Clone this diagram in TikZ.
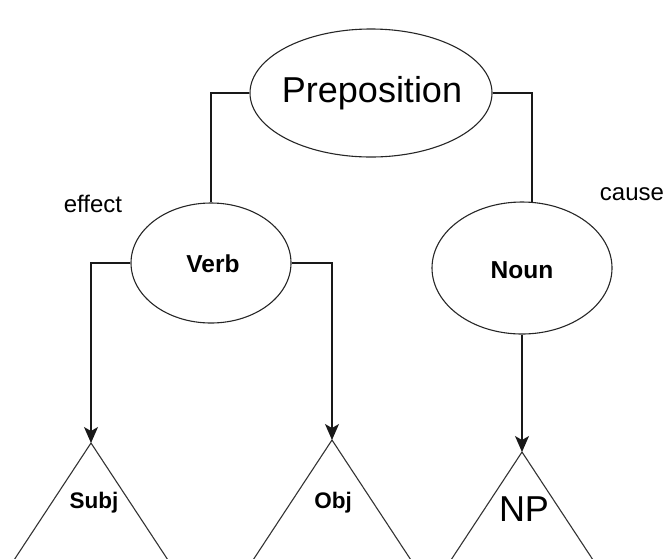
\documentclass[tikz,border=0pt]{standalone}
\usepackage{fontspec}
\setmainfont{Liberation Sans}
\usetikzlibrary{arrows.meta,calc,shapes.geometric}
\tikzset{
  ell/.style={draw=black!85, line width=1.1pt, ellipse, inner sep=0pt},
  conn/.style={draw=black!90, line width=1.2pt},
  arr/.style={conn, -{Stealth[length=16pt,width=14pt,inset=4pt]}},
  tri/.style={draw=black!80, line width=1.1pt},
  big/.style={font=\fontsize{36}{40}\selectfont},
  mid/.style={font=\fontsize{24}{28}\selectfont},
  midb/.style={font=\fontsize{24.5}{28}\selectfont\bfseries},
  smb/.style={font=\fontsize{22.5}{26}\selectfont\bfseries},
}
\begin{document}
\begin{tikzpicture}[x=1pt,y=-1pt]
\useasboundingbox (0,0) rectangle (668,558);
% ellipses
\node[ell, minimum width=242pt, minimum height=128pt] (prep) at (371,93) {};
\node[big] at (372,93) {Preposition};
\node[ell, minimum width=160pt, minimum height=120pt] (verb) at (211,263) {};
\node[midb] at (213,264) {Verb};
\node[ell, minimum width=180pt, minimum height=132pt] (noun) at (522,268) {};
\node[midb] at (522,270) {Noun};
% labels
\node[mid] (effect) at (93,204) {effect};
\node[mid] (cause) at (632,194) {cause};
% triangles
\coordinate (subjtop) at (91,443);
\coordinate (objtop) at (332,440);
\coordinate (nptop) at (522,452);
\begin{scope}
\clip (0,0) rectangle (668,558);
\draw[tri] ($(subjtop)+(-100,152)$) -- (subjtop) -- ($(subjtop)+(100,152)$);
\draw[tri] ($(objtop)+(-100,152)$) -- (objtop) -- ($(objtop)+(100,152)$);
\draw[tri] ($(nptop)+(-100,152)$) -- (nptop) -- ($(nptop)+(100,152)$);
\end{scope}
\node[smb] (subj) at (94,503) {Subj};
\node[smb] (obj) at (333,503) {Obj};
\node[big] (np) at (524,509) {NP};
% connectors
\coordinate (nounin) at ($(noun.north)+(10,0.4)$);
\draw[conn] (prep.west) -| (verb.north);
\draw[conn] (prep.east) -| (nounin);
\draw[arr] (verb.west) -| (subjtop);
\draw[arr] (verb.east) -| (objtop);
\draw[arr] (noun.south) -- (nptop);
\end{tikzpicture}
\end{document}
